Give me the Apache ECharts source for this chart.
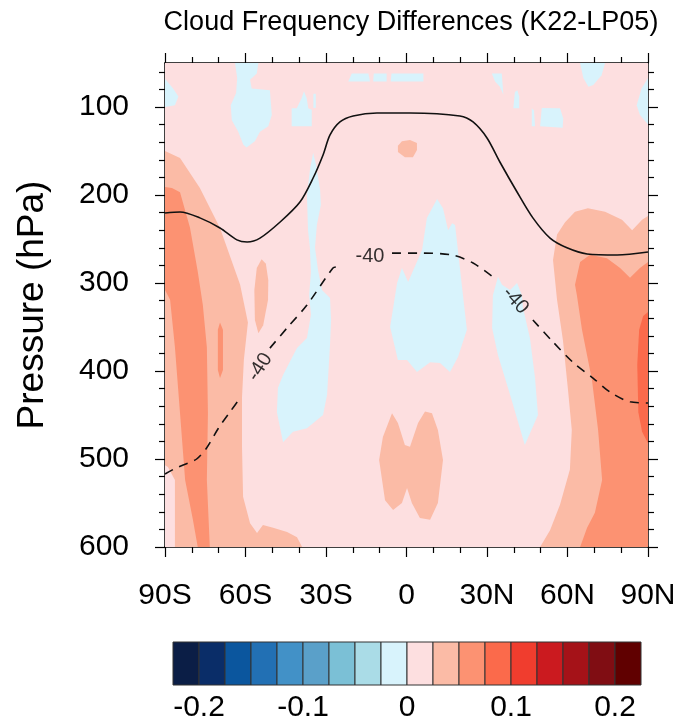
<!DOCTYPE html>
<html>
<head>
<meta charset="utf-8">
<script src="https://cdn.jsdelivr.net/npm/echarts@6/dist/echarts.min.js"></script>
<style>
  html, body { margin: 0; padding: 0; background: #fff; }
  #main { width: 681px; height: 727px; }
</style>
</head>
<body>
<div id="main"></div>
<script>
// 色阶 (每档 0.025)
const levels = [-0.2, -0.175, -0.15, -0.125, -0.1, -0.075, -0.05, -0.025, 0,
                0.025, 0.05, 0.075, 0.1, 0.125, 0.15, 0.175, 0.2];
const levelColors = ['#0b1e46', '#0a2d68', '#0b569e', '#2270b4', '#4291c7', '#5aa0c9',
                     '#7bc0d6', '#aadce7', '#d8f3fc', '#fddfe0', '#fbbba6', '#fc9272',
                     '#fb6a4b', '#f03d2e', '#cb1a1f', '#a51218', '#800d13', '#600000'];
const colorbarLabels = [-0.2, -0.1, 0, 0.1, 0.2];

// 坐标轴刻度
const latTicks = [-90, -60, -30, 0, 30, 60, 90];
const presMajorTicks = [100, 200, 300, 400, 500, 600];
const presMinorTicks = [60, 80, 120, 140, 160, 180, 220, 240, 260, 280, 320, 340, 360, 380,
                        420, 440, 460, 480, 520, 540, 560, 580];

// 填色区域 [纬度, 气压]
const bgRegion = [[-90, 50], [90, 50], [90, 600], [-90, 600]];
const salmonSH = [[-90, 150], [-84.4, 158], [-77, 192], [-69.5, 237.5], [-62, 302], [-59.1, 345],
  [-60.6, 387], [-61.3, 430], [-61.3, 486], [-60.9, 543], [-58.3, 573], [-55.7, 584], [-53.5, 575],
  [-49.7, 578], [-44.5, 583], [-40.8, 589], [-38.9, 600], [-86.3, 600], [-86.3, 524], [-88.9, 509], [-90, 507]];
const orangeSH = [[-90, 191], [-87.4, 192], [-84.4, 197], [-80.7, 237], [-77.8, 287], [-75.9, 325],
  [-74.4, 373], [-74, 448], [-74.4, 524], [-73.3, 600], [-77.8, 600], [-79.6, 569], [-82.5, 524],
  [-84.4, 448], [-86.3, 373], [-88.1, 319], [-90, 308]];
const orangeStreakSH = [[-70.3, 353], [-69.5, 345], [-68.4, 353], [-68.4, 399], [-69.5, 408], [-70.3, 399]];
const salmonLobeSH = [[-54, 273], [-52.4, 278], [-51.5, 297], [-51.6, 319], [-53.4, 348], [-55.2, 357],
  [-56.5, 342], [-56.7, 308], [-55.8, 283]];
const salmonEqTop = [[-3.2, 144], [-1.7, 139], [1.3, 137.5], [3.9, 141], [3.9, 149], [2.4, 157], [-0.6, 157], [-3.2, 151]];
const salmonEqLow = [[-5.4, 448], [-8.8, 475], [-10.2, 501], [-8, 547], [-5, 558], [-1.7, 550], [0.2, 533],
  [2, 550], [5, 567], [8.8, 569], [11.7, 550], [13.6, 501], [11.7, 467], [9.5, 448], [6.9, 446],
  [4.3, 459], [1.3, 486], [-0.6, 484], [-3.2, 459]];
const salmonNH = [[49.8, 600], [53.5, 581], [57.2, 552], [60.9, 512], [61.6, 467], [60.2, 422], [58.3, 365],
  [56.1, 319], [54.6, 274], [56.1, 245], [59.1, 231], [62.8, 219], [67.6, 215], [74, 219], [80.3, 228],
  [84.1, 240], [87.8, 228], [90, 224], [90, 600]];
const orangeNH = [[62.8, 302], [64.7, 276], [68.4, 268], [74.7, 272], [79.6, 283], [83.3, 294], [87, 283],
  [90, 276], [90, 600], [64.7, 600], [67.3, 578], [70.2, 561], [72.9, 524], [71.4, 467], [69.1, 410],
  [65.4, 353], [63.5, 314]];
const redNH = [[90, 333], [88.2, 337.5], [86.7, 353], [86, 393], [86.4, 447], [87.8, 469], [90, 482]];

const blueTopLeft = [[-90, 68], [-87, 79], [-85, 88], [-86.3, 98], [-90, 100]];
const blueBlobSH = [[-63.9, 50], [-55.2, 50], [-55.8, 62], [-58.3, 69], [-57.7, 79], [-50.9, 81], [-50.2, 109],
  [-51.5, 122], [-54.6, 128], [-56.5, 139], [-59.6, 146], [-60.8, 143], [-62.7, 128], [-65.1, 115],
  [-65.5, 98], [-63.5, 84], [-63.1, 67]];
const blue40S = [[-42.8, 101.5], [-40.9, 101.5], [-39.1, 90], [-38.2, 82], [-37.2, 90], [-36.6, 101.5],
  [-35.3, 103], [-35.3, 122], [-42.8, 122]];
const blueThin40S = [[-34.7, 85], [-33.8, 85], [-33.8, 101], [-34.7, 101]];
const blueBand1 = [[-21.7, 71], [-20.4, 62], [-14.2, 62], [-13.6, 71]];
const blueBand2 = [[-12.4, 71], [-12.2, 62], [-7.4, 62], [-7.4, 71]];
const blueBand3 = [[-5.9, 71], [-5.6, 62], [6.3, 62], [6.3, 71]];
const blueTopNH1 = [[64.7, 50], [74, 50], [72.7, 64], [69.6, 75], [67.8, 77], [65.9, 67]];
const blueTopNH2 = [[90, 67], [87.6, 79], [85.8, 98], [87, 109], [90, 120]];
const blueTopNH3 = [[31.8, 62], [35.5, 62], [36.1, 86], [34.8, 77], [33, 71]];
const blueTopNH4 = [[40.4, 83], [41.3, 81], [42, 88], [42, 101.5], [39.8, 101.5]];
const blueTopNH5 = [[46.7, 101.5], [47.5, 104], [47.9, 122], [46.7, 122]];
const blueTopNH6 = [[50.4, 101], [57.2, 101.5], [58.4, 113], [58.2, 123.5], [49.8, 122]];
const blue30S = [[-34.8, 152], [-33.7, 166], [-32.2, 194], [-31.9, 211], [-33.4, 234], [-34.1, 260],
  [-33, 285], [-31.5, 308], [-28.5, 317], [-28.1, 342], [-28.5, 370], [-29.6, 427], [-31.1, 450],
  [-37.1, 465], [-42.3, 469], [-46, 481], [-48.3, 447], [-47.9, 419], [-46, 404.5], [-42.7, 385],
  [-40.8, 374], [-37.1, 362.5], [-35.6, 336], [-36.3, 314], [-35.6, 287.5], [-36, 260], [-36.7, 240],
  [-37.1, 200], [-36, 172]];
const blueCentral = [[11.4, 204.5], [13.6, 215], [15.5, 240], [17, 232], [18.1, 234], [20.7, 304.5],
  [22.5, 353], [19.2, 384], [16.2, 401], [12.5, 391], [8.8, 390], [3.9, 401], [0.2, 387.5], [-3.2, 387.5],
  [-6.1, 350], [-3.5, 300], [-1.7, 283], [0.6, 299], [5.8, 262.5], [7.6, 226]];
const blue30N = [[34.1, 293], [35.6, 302], [38.6, 308], [41.2, 300], [43, 314], [43.4, 328], [46, 362.5],
  [47.9, 408], [49, 450], [44.1, 484], [38.6, 427], [34.1, 382], [31.9, 351], [32.2, 314]];

// 等值线
const solidLine = [[-90, 220.5], [-84.4, 219.3], [-77, 226], [-69.5, 237.5], [-63.2, 251], [-59.4, 253.4],
  [-54.6, 249], [-47.1, 230.7], [-39.7, 208], [-34.8, 180.7], [-31.1, 154.5], [-28.5, 131.8], [-24.8, 117],
  [-19.9, 110.2], [-11, 106.8], [1.3, 106.8], [19.9, 110.2], [24.8, 117], [30, 135.2], [34.8, 162.5],
  [41.2, 196.6], [47.1, 226], [53.5, 249], [59.8, 260], [67.3, 267], [78.5, 268.2], [90, 264.8]];
const dashedLine = [[-90, 517], [-85.7, 510], [-81.3, 504.5], [-78.2, 500], [-74.5, 487.5], [-70.1, 465],
  [-65.8, 446.6], [-62, 430.7], null, [-50.9, 374], [-44.5, 351], [-37.1, 325], [-27.4, 283], [-25.9, 281.8],
  null, [-5.4, 266], [5, 266], [17, 268.2], [24.8, 277.3], [32.2, 293], null, [47.1, 342], [54.6, 367],
  [62, 390], [69.5, 408], [75.9, 424], [83.3, 435], [90, 436.4]];
const dashedLabel = '-40';
const dashedLabelPoints = [[-54.6, 395.5, 57], [-13.6, 270, 0], [40.6, 320, -48]];

// 区域与数值 (画的先后顺序)
const regions = [
  [bgRegion, 0.0125],
  [salmonSH, 0.0375], [orangeSH, 0.0625], [orangeStreakSH, 0.0625], [salmonLobeSH, 0.0375],
  [salmonEqTop, 0.0375], [salmonEqLow, 0.0375],
  [salmonNH, 0.0375], [orangeNH, 0.0625], [redNH, 0.0875],
  [blueTopLeft, -0.0125], [blueBlobSH, -0.0125], [blue40S, -0.0125], [blueThin40S, -0.0125],
  [blueBand1, -0.0125], [blueBand2, -0.0125], [blueBand3, -0.0125],
  [blueTopNH1, -0.0125], [blueTopNH2, -0.0125], [blueTopNH3, -0.0125], [blueTopNH4, -0.0125],
  [blueTopNH5, -0.0125], [blueTopNH6, -0.0125],
  [blue30S, -0.0125], [blueCentral, -0.0125], [blue30N, -0.0125]
];

function colorOf(v) {
  let i = 0;
  while (i < levels.length && v > levels[i]) i++;
  return levelColors[i];
}

// 把虚线按 null 分段
const dashedSegments = [[]];
dashedLine.forEach(pt => {
  if (pt === null) dashedSegments.push([]);
  else dashedSegments[dashedSegments.length - 1].push(pt);
});

// 色标方块
const cbBounds = [-0.225].concat(levels, [0.225]);
const colorbarBoxes = levelColors.map((c, i) => [cbBounds[i], cbBounds[i + 1], i]);

const FONT = '"Liberation Sans", Arial, Helvetica, sans-serif';
const axisLineStyle = { color: '#000', width: 1.5 };
const tickStyle = { color: '#000', width: 1.2 };

function latLabel(v) {
  if (v < 0) return (-v) + 'S';
  if (v > 0) return v + 'N';
  return '0';
}

const chart = echarts.init(document.getElementById('main'));

const option = {
  animation: false,
  backgroundColor: '#fff',
  title: {
    text: 'Cloud Frequency Differences (K22-LP05)',
    left: 406,
    top: 4,
    textAlign: 'center',
    textStyle: { fontFamily: FONT, fontSize: 27, fontWeight: 'normal', color: '#000' }
  },
  grid: [
    { left: 165, top: 63, width: 483, height: 484 },
    { left: 173, top: 642, width: 468, height: 43 }
  ],
  xAxis: [
    {
      gridIndex: 0, type: 'value', min: -90, max: 90, interval: 30, position: 'bottom',
      axisLine: { show: true, onZero: false, lineStyle: axisLineStyle },
      axisTick: { show: true, length: 10, lineStyle: tickStyle },
      minorTick: { show: true, splitNumber: 3, length: 6, lineStyle: tickStyle },
      splitLine: { show: false },
      axisLabel: { formatter: latLabel, fontFamily: FONT, fontSize: 30, color: '#000', margin: 34 }
    },
    {
      gridIndex: 0, type: 'value', min: -90, max: 90, interval: 30, position: 'top',
      axisLine: { show: true, onZero: false, lineStyle: axisLineStyle },
      axisTick: { show: true, length: 10, lineStyle: tickStyle },
      minorTick: { show: true, splitNumber: 3, length: 6, lineStyle: tickStyle },
      splitLine: { show: false },
      axisLabel: { show: false }
    },
    {
      gridIndex: 1, type: 'value', min: -0.225, max: 0.225, interval: 0.025,
      axisLine: { show: false, onZero: false }, axisTick: { show: false }, splitLine: { show: false },
      axisLabel: {
        interval: 0, fontFamily: FONT, fontSize: 30, color: '#000', margin: 8,
        formatter: v => {
          const r = Math.round(v * 40);
          if (r % 4 !== 0) return '';
          const val = r / 40;
          return colorbarLabels.indexOf(val) >= 0 ? String(val) : '';
        }
      }
    }
  ],
  yAxis: [
    {
      gridIndex: 0, type: 'value', min: 50, max: 600, inverse: true, position: 'left',
      name: 'Pressure (hPa)', nameLocation: 'middle', nameGap: 114,
      nameTextStyle: { fontFamily: FONT, fontSize: 37, color: '#000' },
      axisLine: { show: true, onZero: false, lineStyle: axisLineStyle },
      axisTick: { show: true, length: 10, customValues: presMajorTicks, lineStyle: tickStyle },
      splitLine: { show: false },
      axisLabel: { customValues: presMajorTicks, fontFamily: FONT, fontSize: 30, color: '#000', margin: 36 }
    },
    {
      gridIndex: 0, type: 'value', min: 50, max: 600, inverse: true, position: 'left',
      axisLine: { show: false, onZero: false },
      axisTick: { show: true, length: 6, customValues: presMinorTicks, lineStyle: tickStyle },
      splitLine: { show: false }, axisLabel: { show: false }
    },
    {
      gridIndex: 0, type: 'value', min: 50, max: 600, inverse: true, position: 'right',
      axisLine: { show: true, onZero: false, lineStyle: axisLineStyle },
      axisTick: { show: true, length: 10, customValues: presMajorTicks, lineStyle: tickStyle },
      splitLine: { show: false }, axisLabel: { show: false }
    },
    {
      gridIndex: 0, type: 'value', min: 50, max: 600, inverse: true, position: 'right',
      axisLine: { show: false, onZero: false },
      axisTick: { show: true, length: 6, customValues: presMinorTicks, lineStyle: tickStyle },
      splitLine: { show: false }, axisLabel: { show: false }
    },
    {
      gridIndex: 1, type: 'value', min: 0, max: 1, show: false
    }
  ],
  series: [
    {
      type: 'custom',
      xAxisIndex: 0, yAxisIndex: 0,
      clip: true,
      silent: true,
      data: regions.map((r, i) => [r[0][0][0], r[0][0][1], i]),
      encode: { x: 0, y: 1 },
      renderItem: (params, api) => {
        const r = regions[params.dataIndex];
        return {
          type: 'polygon',
          shape: { points: r[0].map(pt => api.coord(pt)) },
          style: { fill: colorOf(r[1]), stroke: null }
        };
      },
      z: 1
    },
    {
      type: 'line', xAxisIndex: 0, yAxisIndex: 0,
      data: solidLine, showSymbol: false, smooth: 0.3, silent: true,
      lineStyle: { color: '#111', width: 1.6 }, z: 5
    },
    ...dashedSegments.map(seg => ({
      type: 'line', xAxisIndex: 0, yAxisIndex: 0,
      data: seg, showSymbol: false, smooth: 0.3, silent: true,
      lineStyle: { color: '#111', width: 1.6, type: [9, 7] }, z: 5
    })),
    {
      type: 'scatter', xAxisIndex: 0, yAxisIndex: 0,
      symbolSize: 1, itemStyle: { color: 'rgba(0,0,0,0)' }, silent: true,
      data: dashedLabelPoints.map(p => ({
        value: [p[0], p[1]],
        label: { rotate: p[2] }
      })),
      label: {
        show: true, position: 'inside', formatter: dashedLabel,
        fontFamily: FONT, fontSize: 20, color: '#000'
      },
      z: 6
    },
    {
      type: 'custom',
      xAxisIndex: 2, yAxisIndex: 4,
      silent: true,
      data: colorbarBoxes,
      encode: { x: [0, 1] },
      renderItem: (params, api) => {
        const p0 = api.coord([api.value(0), 1]);
        const p1 = api.coord([api.value(1), 0]);
        return {
          type: 'rect',
          shape: { x: p0[0], y: p0[1], width: p1[0] - p0[0], height: p1[1] - p0[1] },
          style: { fill: levelColors[api.value(2)], stroke: '#333', lineWidth: 1 }
        };
      }
    }
  ]
};

chart.setOption(option);
window.addEventListener('resize', () => chart.resize());
</script>
</body>
</html>
